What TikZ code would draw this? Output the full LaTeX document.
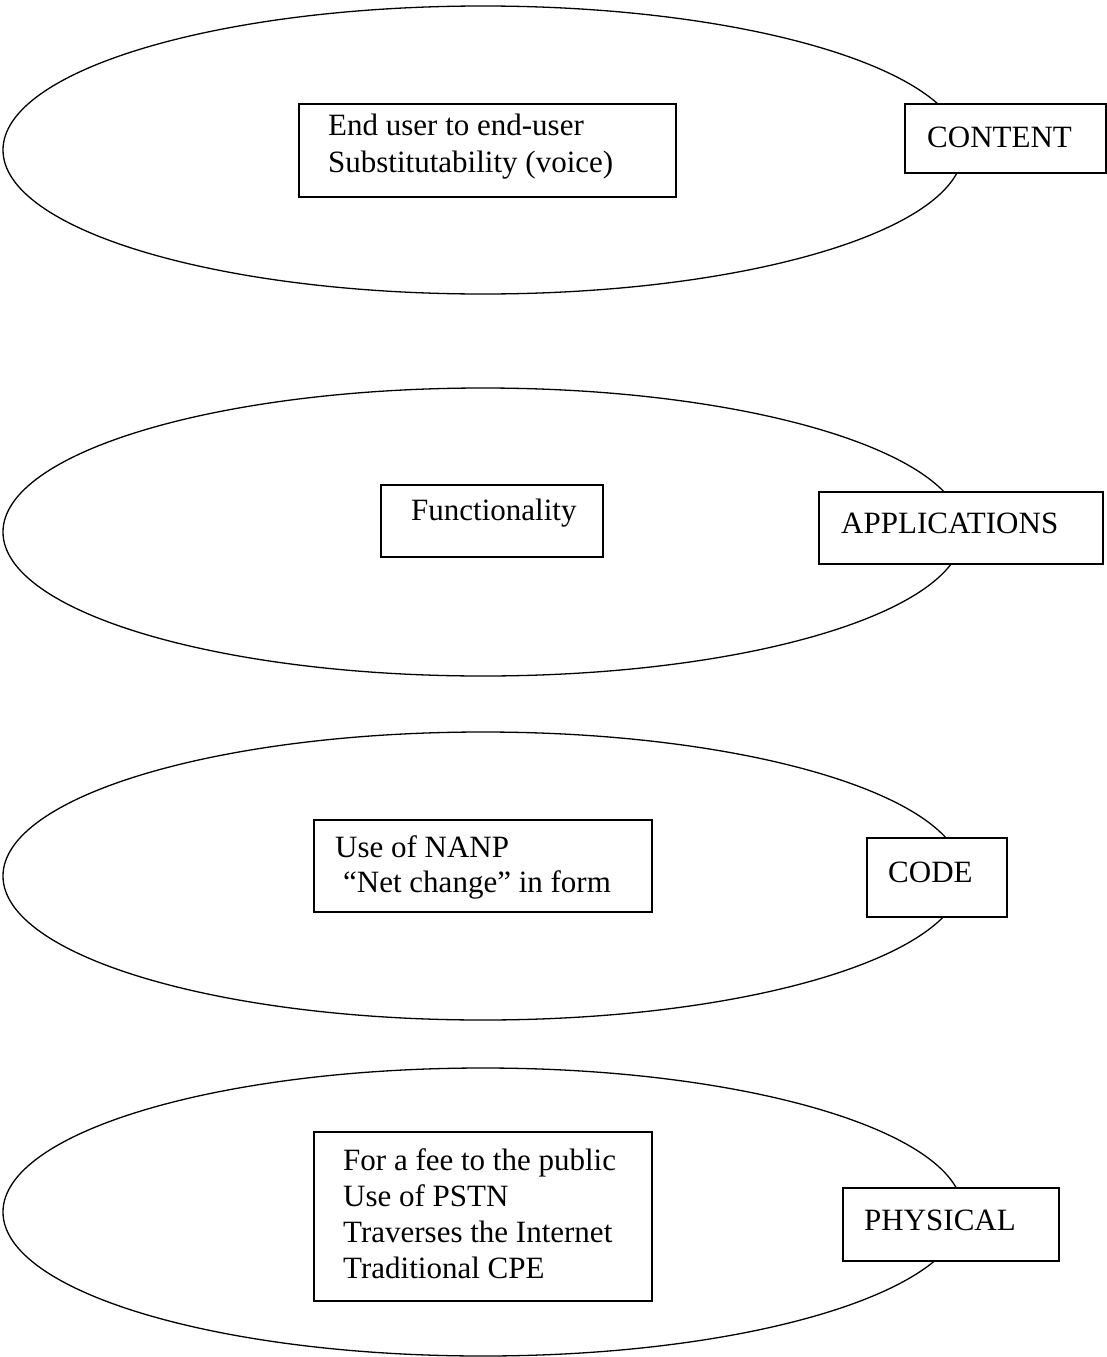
\documentclass[tikz,border=0pt]{standalone}
\usepackage{fontspec}
\setmainfont{Liberation Serif}
\usetikzlibrary{shapes.geometric}
\begin{document}
\begin{tikzpicture}[x=1pt,y=-1pt,
  layer/.style={draw, ellipse, line width=1.3pt, minimum width=960pt, minimum height=288pt, inner sep=0pt},
  box/.style={draw, fill=white, rectangle, line width=1.4pt, inner sep=0pt},
  txt/.style={anchor=base west, inner sep=0pt, font=\fontsize{31}{36.5}\selectfont}
]
\useasboundingbox (0,0) rectangle (1107,1357);

% the four layers
\node[layer] (e1) at (483,150) {};
\node[layer] (e2) at (483,532) {};
\node[layer] (e3) at (483,876) {};
\node[layer] (e4) at (483,1212) {};

% inner boxes
\node[box, minimum width=377pt, minimum height=93pt]  (b1) at (487.5,150.5) {};
\node[box, minimum width=222pt, minimum height=72pt]  (b2) at (492,521) {};
\node[box, minimum width=338pt, minimum height=92pt]  (b3) at (483,866) {};
\node[box, minimum width=338pt, minimum height=169pt] (b4) at (483,1216.5) {};

% layer name boxes
\node[box, minimum width=201pt, minimum height=69pt] (l1) at (1005.5,138.5) {};
\node[box, minimum width=284pt, minimum height=72pt] (l2) at (961,528) {};
\node[box, minimum width=140pt, minimum height=79pt] (l3) at (937,877.5) {};
\node[box, minimum width=216pt, minimum height=73pt] (l4) at (951,1224.5) {};

% texts
\node[txt, font=\fontsize{31}{37}\selectfont] (t1) at (328,135)
  {\begin{tabular}[t]{@{}l@{}}End user to end-user\\Substitutability (voice)\end{tabular}};
\node[txt] (t2) at (411,520) {Functionality};
\node[txt, font=\fontsize{31}{35}\selectfont] (t3) at (335,857)
  {\begin{tabular}[t]{@{}l@{}}Use of NANP\\\hspace{8pt}“Net change” in form\end{tabular}};
\node[txt, font=\fontsize{31}{36.3}\selectfont] (t4) at (343,1170)
  {\begin{tabular}[t]{@{}l@{}}For a fee to the public\\Use of PSTN\\Traverses the Internet\\Traditional CPE\end{tabular}};

\node[txt] (n1) at (927,147) {CONTENT};
\node[txt] (n2) at (841,533) {APPLICATIONS};
\node[txt] (n3) at (888,882) {CODE};
\node[txt] (n4) at (864,1230) {PHYSICAL};
\end{tikzpicture}
\end{document}
